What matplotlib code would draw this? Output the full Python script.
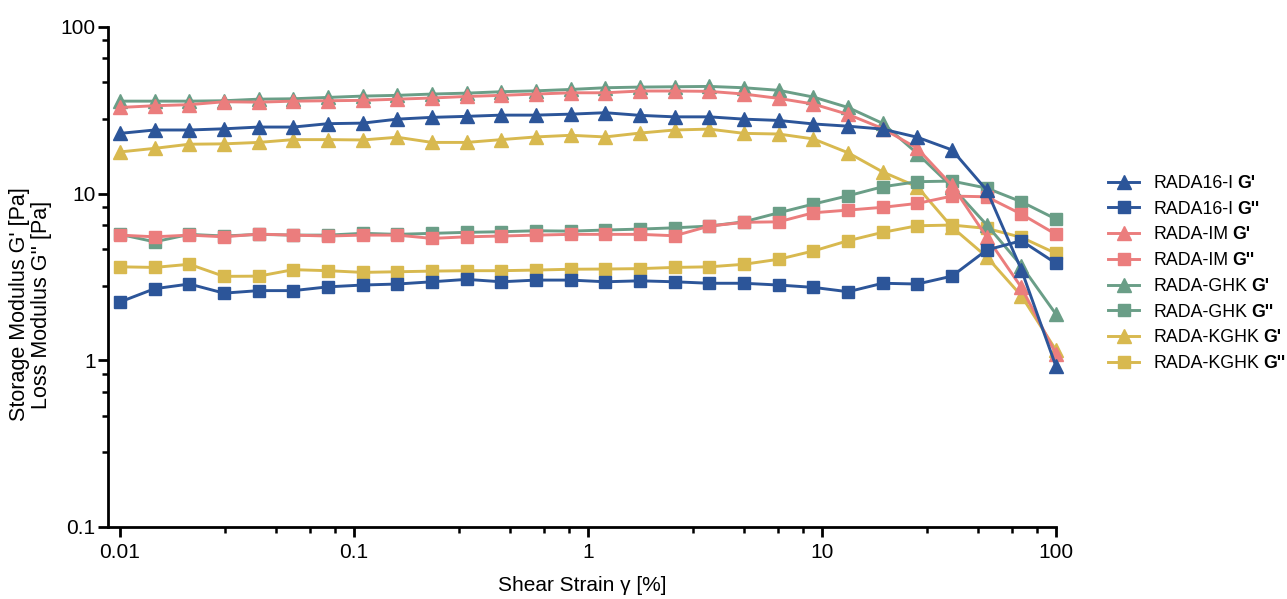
import matplotlib
matplotlib.use('Agg')
import matplotlib.pyplot as plt
from matplotlib.ticker import FixedLocator, FixedFormatter, NullFormatter
from matplotlib.transforms import IdentityTransform

plt.rcParams['font.family'] = ['Liberation Sans', 'DejaVu Sans']

# shear strain [%]
strain = [0.01, 0.01406, 0.01978, 0.02783, 0.03914, 0.05505, 0.07743,
          0.1089, 0.1532, 0.2154, 0.3030, 0.4262, 0.5995, 0.8432,
          1.186, 1.668, 2.346, 3.300, 4.642, 6.529, 9.184,
          12.92, 18.17, 25.55, 35.94, 50.55, 71.11, 100.0]

# G' (storage) and G'' (loss) in Pa
rada16_gp = [23.0, 24.1, 24.1, 24.5, 25.1, 25.1, 26.3, 26.5, 28.0, 28.7, 29.1, 29.6, 29.6, 30.0,
             30.6, 29.5, 28.9, 28.9, 28.0, 27.5, 26.2, 25.4, 24.4, 21.8, 18.3, 10.5, 3.5, 0.92]
rada16_gpp = [2.24, 2.69, 2.87, 2.53, 2.62, 2.62, 2.76, 2.83, 2.87, 2.96, 3.06, 2.96, 3.03, 3.03,
              2.96, 3.00, 2.96, 2.90, 2.90, 2.83, 2.74, 2.58, 2.90, 2.87, 3.20, 4.59, 5.22, 3.82]
im_gp = [32.9, 33.7, 34.2, 35.6, 35.4, 35.9, 36.1, 36.3, 36.9, 37.5, 38.3, 38.9, 39.6, 40.3,
         40.3, 41.3, 41.3, 41.1, 39.6, 37.3, 34.5, 29.9, 24.6, 18.7, 11.2, 5.5, 2.74, 1.09]
im_gpp = [5.64, 5.51, 5.64, 5.51, 5.72, 5.64, 5.57, 5.64, 5.64, 5.39, 5.51, 5.57, 5.64, 5.70,
          5.70, 5.70, 5.59, 6.39, 6.73, 6.78, 7.68, 7.97, 8.28, 8.74, 9.67, 9.58, 7.54, 5.70]
ghk_gp = [35.9, 35.9, 35.9, 36.1, 36.9, 37.1, 37.8, 38.5, 38.9, 39.6, 40.1, 40.9, 41.4, 42.2,
          43.2, 43.6, 43.8, 44.0, 43.2, 41.7, 38.0, 32.9, 26.4, 17.4, 11.0, 6.5, 3.7, 1.89]
ghk_gpp = [5.70, 5.14, 5.70, 5.57, 5.70, 5.64, 5.64, 5.78, 5.70, 5.78, 5.86, 5.91, 5.99, 5.96,
           6.05, 6.13, 6.24, 6.39, 6.78, 7.68, 8.66, 9.71, 11.0, 11.8, 11.9, 10.8, 8.94, 7.04]
kghk_gp = [17.8, 18.7, 19.8, 19.9, 20.3, 21.1, 21.1, 21.0, 21.8, 20.3, 20.3, 21.1, 21.9, 22.4,
           21.9, 23.1, 24.1, 24.4, 23.0, 22.8, 21.3, 17.6, 13.5, 11.0, 6.3, 4.18, 2.44, 1.15]
kghk_gpp = [3.64, 3.61, 3.77, 3.19, 3.20, 3.50, 3.45, 3.37, 3.40, 3.43, 3.45, 3.45, 3.48, 3.52,
            3.53, 3.55, 3.61, 3.64, 3.77, 4.04, 4.53, 5.22, 5.86, 6.42, 6.48, 6.19, 5.47, 4.38]

names = ['RADA16-I', 'RADA-IM', 'RADA-GHK', 'RADA-KGHK']
colors = ['#2C5599', '#EB7D7D', '#6A9E87', '#D8B94F']
storage = [rada16_gp, im_gp, ghk_gp, kghk_gp]
loss = [rada16_gpp, im_gpp, ghk_gpp, kghk_gpp]

fig = plt.figure(figsize=(12.87, 5.99), dpi=100)
ax = fig.add_axes([108 / 1287, 72 / 599, 948 / 1287, 500 / 599])

handles = []
labels = []
for k in range(4):
    z = 10 - k  # first data set on top
    h1, = ax.plot(strain, storage[k], color=colors[k], marker='^', markersize=9.5,
                  linewidth=2.1, zorder=z, clip_on=False)
    h2, = ax.plot(strain, loss[k], color=colors[k], marker='s', markersize=8.5,
                  linewidth=2.1, zorder=z, clip_on=False)
    handles += [h1, h2]
    labels += [names[k], names[k]]

ax.set_xscale('log')
ax.set_yscale('log')
ax.set_xlim(10 ** (-2 - 12 / 234), 100)
ax.set_ylim(0.1, 100)

ax.spines['top'].set_visible(False)
ax.spines['right'].set_visible(False)
for s in ['left', 'bottom']:
    ax.spines[s].set_linewidth(2.0)

xmaj = [0.01, 0.1, 1, 10, 100]
ymaj = [0.1, 1, 10, 100]
subs = [2.8, 4.65, 6.5, 8.3]
ax.xaxis.set_major_locator(FixedLocator(xmaj))
ax.xaxis.set_major_formatter(FixedFormatter(['0.01', '0.1', '1', '10', '100']))
ax.xaxis.set_minor_locator(FixedLocator([d * s for d in xmaj[:-1] for s in subs]))
ax.xaxis.set_minor_formatter(NullFormatter())
ax.yaxis.set_major_locator(FixedLocator(ymaj))
ax.yaxis.set_major_formatter(FixedFormatter(['0.1', '1', '10', '100']))
ax.yaxis.set_minor_locator(FixedLocator([d * s for d in ymaj[:-1] for s in subs]))
ax.yaxis.set_minor_formatter(NullFormatter())
ax.tick_params(which='major', length=7.5, width=2.0, labelsize=15)
ax.tick_params(axis='y', which='major', pad=1.5)
ax.tick_params(axis='x', which='major', pad=4)
ax.tick_params(which='minor', length=4.5, width=1.8)

ax.set_xlabel('Shear Strain γ [%]', fontsize=15, labelpad=10)
ax.set_ylabel("Storage Modulus G' [Pa]\nLoss Modulus G'' [Pa]", fontsize=15.5,
              linespacing=1.05, va='center', ha='center')
ax.yaxis.set_label_coords(-0.082, 0.445)

fs = 12.8
leg = fig.legend(handles, labels, loc='upper left', bbox_to_anchor=(1108 / 1287, 1 - 175 / 599),
                 frameon=False, fontsize=fs, handlelength=1.75, handletextpad=0.8,
                 labelspacing=0.49, borderpad=0, borderaxespad=0)

# bold G' / G'' after each legend name
fig.canvas.draw()
suffix = ["G'", "G''"] * 4
for t, s in zip(leg.get_texts(), suffix):
    bb = t.get_window_extent()
    fig.text(bb.x1 + 4, bb.y0, s, transform=IdentityTransform(), fontsize=fs,
             fontweight='bold', ha='left', va='bottom')

fig.savefig('out.png', dpi=100)
